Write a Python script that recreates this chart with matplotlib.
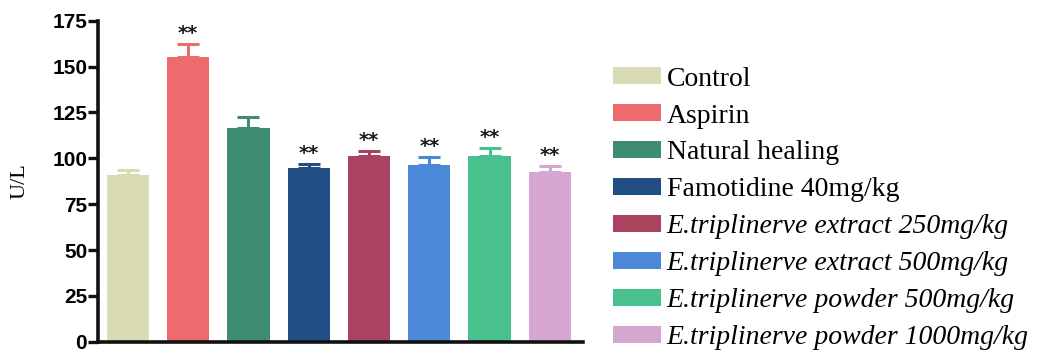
import matplotlib
matplotlib.use("Agg")
import matplotlib.pyplot as plt
import numpy as np

groups = [
    "Control",
    "Aspirin",
    "Natural healing",
    "Famotidine 40mg/kg",
    "E.triplinerve extract 250mg/kg",
    "E.triplinerve extract 500mg/kg",
    "E.triplinerve powder 500mg/kg",
    "E.triplinerve powder 1000mg/kg",
]
means = [91, 155.5, 116.5, 94.5, 101, 96.5, 101, 92.5]
sem = [2.5, 7, 6, 2.5, 3, 4, 4.5, 3.5]
marks = ["", "**", "", "**", "**", "**", "**", "**"]
colors = ["#d9dbb5", "#ee6b6d", "#3f8d71", "#214f85",
          "#a9435f", "#4b88d7", "#49c18f", "#d4a6d0"]
italic_groups = [False, False, False, False, True, True, True, True]
yticks = [0, 25, 50, 75, 100, 125, 150, 175]

fig = plt.figure(figsize=(10.38, 3.58), dpi=100)
ax = fig.add_axes([0.0947, 0.0455, 0.467, 0.8965])

x = np.arange(len(groups))
bars = ax.bar(x, means, width=0.7, color=colors, edgecolor="none", zorder=2)
for xi, m, e, c in zip(x, means, sem, colors):
    ax.errorbar(xi, m, yerr=[[0], [e]], fmt="none", ecolor=c,
                elinewidth=2.2, capsize=8, capthick=2.2, zorder=1)

for xi, m, e, s in zip(x, means, sem, marks):
    if s:
        ax.text(xi, m + e + 0.5, s, ha="center", va="bottom",
                fontsize=14, fontweight="bold", color="#1a1a1a",
                family="DejaVu Sans")

ax.set_xlim(-0.49, 7.55)
ax.set_ylim(0, 175)
ax.set_yticks(yticks)
ax.set_yticklabels([str(v) for v in yticks], fontsize=15,
                   fontweight="bold", family="Liberation Sans")
ax.set_xticks([])
for side in ("top", "right"):
    ax.spines[side].set_visible(False)
for side in ("left", "bottom"):
    ax.spines[side].set_linewidth(2.6)
    ax.spines[side].set_color("#111111")
ax.tick_params(axis="y", length=7, width=2.4, pad=1, color="#111111")
ax.set_ylabel("U/L", fontsize=16, family="Liberation Serif", labelpad=16)

leg = fig.legend(bars, groups, loc="upper left",
                 bbox_to_anchor=(0.591, 0.814), frameon=False,
                 prop={"family": "Liberation Serif", "size": 20},
                 handlelength=1.7, handleheight=0.58, handletextpad=0.22,
                 labelspacing=0.43, borderaxespad=0, borderpad=0)
for t, it in zip(leg.get_texts(), italic_groups):
    if it:
        t.set_style("italic")

fig.savefig("out.png", dpi=100)
